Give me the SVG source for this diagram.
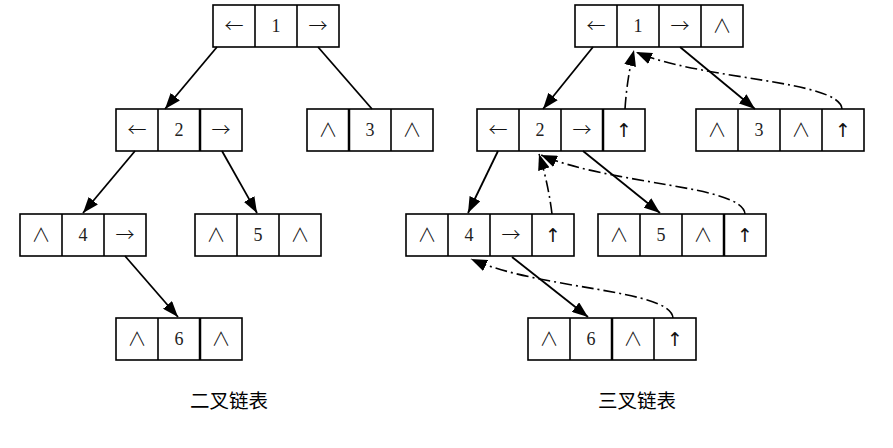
<svg xmlns="http://www.w3.org/2000/svg" width="893" height="448" viewBox="0 0 893 448">
<style>
.box{fill:#fff;stroke:#000;stroke-width:1.6}
.div{stroke:#000;stroke-width:1.6}
.t{font-family:"Liberation Serif","DejaVu Serif",serif;font-size:18px;text-anchor:middle;fill:#222}
.s{font-family:"Noto Sans CJK SC","DejaVu Sans",sans-serif;font-size:19px;font-weight:300;text-anchor:middle;fill:#111}
.u{font-family:"DejaVu Sans","Liberation Sans",sans-serif;font-size:19px;text-anchor:middle;fill:#111}
.edge{stroke:#000;stroke-width:1.8;fill:none}
.par{stroke:#000;stroke-width:1.6;fill:none;stroke-dasharray:12 4 2 4}
.cap{font-family:"Noto Sans CJK SC",sans-serif;font-size:19.5px;text-anchor:middle;fill:#000}
</style>
<defs>
<marker id="ah" viewBox="0 0 16 12" refX="16" refY="6" markerWidth="16" markerHeight="12" markerUnits="userSpaceOnUse" orient="auto">
<path d="M0,0 L16,6 L0,12 z" fill="#000"/>
</marker>
</defs>

<!-- Left tree: binary linked list -->
<g id="L1">
<rect class="box" x="213" y="5" width="126" height="42"/>
<line class="div" x1="255" y1="5" x2="255" y2="47"/><line class="div" x1="297" y1="5" x2="297" y2="47"/>
<text class="s" x="234" y="33">←</text><text class="t" x="276" y="32">1</text><text class="s" x="318" y="33">→</text>
</g>
<g id="L2">
<rect class="box" x="116" y="109" width="126" height="42"/>
<line class="div" x1="158" y1="109" x2="158" y2="151"/><line class="div" x1="200" y1="109" x2="200" y2="151" style="stroke-width:2.5"/>
<text class="s" x="137" y="137">←</text><text class="t" x="179" y="136">2</text><text class="s" x="221" y="137">→</text>
</g>
<g id="L3">
<rect class="box" x="307" y="109" width="126" height="42"/>
<line class="div" x1="349" y1="109" x2="349" y2="151" style="stroke-width:2.5"/><line class="div" x1="391" y1="109" x2="391" y2="151"/>
<text class="s" x="328" y="137">∧</text><text class="t" x="370" y="136">3</text><text class="s" x="412" y="137">∧</text>
</g>
<g id="L4">
<rect class="box" x="20" y="214" width="126" height="42"/>
<line class="div" x1="62" y1="214" x2="62" y2="256"/><line class="div" x1="104" y1="214" x2="104" y2="256"/>
<text class="s" x="41" y="242">∧</text><text class="t" x="83" y="241">4</text><text class="s" x="125" y="242">→</text>
</g>
<g id="L5">
<rect class="box" x="195" y="214" width="126" height="42"/>
<line class="div" x1="237" y1="214" x2="237" y2="256"/><line class="div" x1="279" y1="214" x2="279" y2="256"/>
<text class="s" x="216" y="242">∧</text><text class="t" x="258" y="241">5</text><text class="s" x="300" y="242">∧</text>
</g>
<g id="L6">
<rect class="box" x="116" y="318" width="126" height="42"/>
<line class="div" x1="158" y1="318" x2="158" y2="360"/><line class="div" x1="200" y1="318" x2="200" y2="360" style="stroke-width:2.5"/>
<text class="s" x="137" y="346">∧</text><text class="t" x="179" y="345">6</text><text class="s" x="221" y="346">∧</text>
</g>

<!-- Right tree: ternary linked list -->
<g id="R1">
<rect class="box" x="575" y="5" width="168" height="42"/>
<line class="div" x1="617" y1="5" x2="617" y2="47"/><line class="div" x1="659" y1="5" x2="659" y2="47"/><line class="div" x1="701" y1="5" x2="701" y2="47"/>
<text class="s" x="596" y="33">←</text><text class="t" x="638" y="32">1</text><text class="s" x="680" y="33">→</text><text class="s" x="722" y="33">∧</text>
</g>
<g id="R2">
<rect class="box" x="477" y="109" width="168" height="42"/>
<line class="div" x1="519" y1="109" x2="519" y2="151"/><line class="div" x1="561" y1="109" x2="561" y2="151"/><line class="div" x1="603" y1="109" x2="603" y2="151" style="stroke-width:2.5"/>
<text class="s" x="498" y="137">←</text><text class="t" x="540" y="136">2</text><text class="s" x="582" y="137">→</text><text class="u" x="624" y="137">↑</text>
</g>
<g id="R3">
<rect class="box" x="696" y="109" width="168" height="42"/>
<line class="div" x1="738" y1="109" x2="738" y2="151"/><line class="div" x1="780" y1="109" x2="780" y2="151"/><line class="div" x1="822" y1="109" x2="822" y2="151"/>
<text class="s" x="717" y="137">∧</text><text class="t" x="759" y="136">3</text><text class="s" x="801" y="137">∧</text><text class="u" x="843" y="137">↑</text>
</g>
<g id="R4">
<rect class="box" x="406" y="214" width="168" height="42"/>
<line class="div" x1="448" y1="214" x2="448" y2="256"/><line class="div" x1="490" y1="214" x2="490" y2="256"/><line class="div" x1="532" y1="214" x2="532" y2="256"/>
<text class="s" x="427" y="242">∧</text><text class="t" x="469" y="241">4</text><text class="s" x="511" y="242">→</text><text class="u" x="553" y="242">↑</text>
</g>
<g id="R5">
<rect class="box" x="598" y="214" width="168" height="42"/>
<line class="div" x1="640" y1="214" x2="640" y2="256"/><line class="div" x1="682" y1="214" x2="682" y2="256"/><line class="div" x1="724" y1="214" x2="724" y2="256" style="stroke-width:2.5"/>
<text class="s" x="619" y="242">∧</text><text class="t" x="661" y="241">5</text><text class="s" x="703" y="242">∧</text><text class="u" x="745" y="242">↑</text>
</g>
<g id="R6">
<rect class="box" x="528" y="318" width="168" height="42"/>
<line class="div" x1="570" y1="318" x2="570" y2="360"/><line class="div" x1="612" y1="318" x2="612" y2="360" style="stroke-width:2.5"/><line class="div" x1="654" y1="318" x2="654" y2="360"/>
<text class="s" x="549" y="346">∧</text><text class="t" x="591" y="345">6</text><text class="s" x="633" y="346">∧</text><text class="u" x="675" y="346">↑</text>
</g>

<g id="connectors">
<!-- left tree -->
<line class="edge" x1="217" y1="47" x2="165" y2="109" marker-end="url(#ah)"/>
<line class="edge" x1="318" y1="47" x2="372" y2="109"/>
<line class="edge" x1="135" y1="151" x2="83" y2="213" marker-end="url(#ah)"/>
<line class="edge" x1="222" y1="151" x2="257" y2="213" marker-end="url(#ah)"/>
<line class="edge" x1="125" y1="256" x2="178" y2="317" marker-end="url(#ah)"/>
<!-- right tree children -->
<line class="edge" x1="593" y1="47" x2="543" y2="109" marker-end="url(#ah)"/>
<line class="edge" x1="680" y1="47" x2="755" y2="109" marker-end="url(#ah)"/>
<line class="edge" x1="498" y1="151" x2="468" y2="213" marker-end="url(#ah)"/>
<line class="edge" x1="583" y1="151" x2="660" y2="213" marker-end="url(#ah)"/>
<line class="edge" x1="512" y1="257" x2="588" y2="317" marker-end="url(#ah)"/>
<!-- parent pointers -->
<path class="par" d="M625,109 Q627,78 634,50" marker-end="url(#ah)"/>
<path class="par" d="M842,109 C840,80 700,80 636,52" marker-end="url(#ah)"/>
<path class="par" d="M552,214 Q548,182 539,154" marker-end="url(#ah)"/>
<path class="par" d="M745,214 C743,185 610,185 541,155" marker-end="url(#ah)"/>
<path class="par" d="M673,318 C671,289 540,290 471,259" marker-end="url(#ah)"/>
</g>

<text class="cap" x="229" y="408">二叉链表</text>
<text class="cap" x="637" y="408">三叉链表</text>
</svg>
